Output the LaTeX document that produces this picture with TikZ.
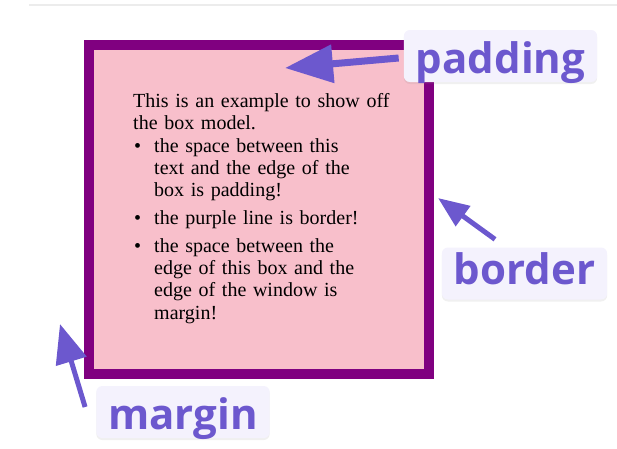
\documentclass[tikz,border=0pt]{standalone}
\usepackage{fontspec}
\setmainfont{Liberation Serif}
\newfontfamily\tagfont{Open Sans}
\usetikzlibrary{arrows.meta, shadows}
\definecolor{boxPurple}{RGB}{128, 0, 128}
\definecolor{boxPink}{RGB}{248, 191, 203}
\definecolor{tagBlue}{RGB}{108, 88, 206}
\definecolor{tagFill}{RGB}{244, 242, 253}
\definecolor{ruleGray}{RGB}{236, 236, 236}

\begin{document}
\begin{tikzpicture}[x=1pt, y=-1pt,
    body/.style={anchor=base west, inner sep=0pt, text width=300pt, align=left,
      font=\fontsize{20}{22.4}\selectfont},
    dot/.style={anchor=base west, inner sep=0pt, font=\fontsize{20}{22.4}\selectfont},
    tag/.style={rounded corners=6pt, fill=tagFill, text=tagBlue, inner xsep=12pt,
      inner ysep=9pt, text height=34pt, text depth=0pt,
      font=\tagfont\bfseries\fontsize{42}{42}\selectfont,
      drop shadow={shadow xshift=0pt, shadow yshift=-2pt, opacity=0.12}}]
      \useasboundingbox (0,0) rectangle (617,448);

      \draw[ruleGray, line width=1.5pt] (29,5) -- (617,5);
      \draw[boxPurple, line width=10pt, fill=boxPink] (89,45) rectangle (429,374);

      \node[body] (intro) at (133,107.5) {This is an example to show off\\the box model.};
      \node[dot] (dot1) at (134,152) {\textbullet};
      \node[body] (item1) at (154,152) {the space between this\\text and the edge of the\\box is padding!};
      \node[dot] (dot2) at (134,224.5) {\textbullet};
      \node[body] (item2) at (154,224.5) {the purple line is border!};
      \node[dot] (dot3) at (134,252) {\textbullet};
      \node[body] (item3) at (154,252) {the space between the\\edge of this box and the\\edge of the window is\\margin!};

      \node[tag] (padding) at (500.5,56) {padding};
      \node[tag, text height=28pt, text depth=6pt] (border) at (524.5,273.5) {border};
      \node[tag] (margin) at (183,412) {margin};

      \coordinate (padTip) at (285,68);
      \coordinate (borderTip) at (438,198);
      \coordinate (marginTip) at (60,324);

      \draw[tagBlue, line width=7pt, -{Triangle[length=48pt, width=37pt]}]
        ([shift={(-5,2)}]padding.west) -- (padTip);
      \draw[tagBlue, line width=5pt, -{Triangle[length=31pt, width=24pt]}]
        ([shift={(-29.5,-8)}]border.north) -- (borderTip);
      \draw[tagBlue, line width=5pt, -{Triangle[length=39pt, width=31pt]}]
        ([shift={(-11,-5)}]margin.west) -- (marginTip);
    \end{tikzpicture}
\end{document}
